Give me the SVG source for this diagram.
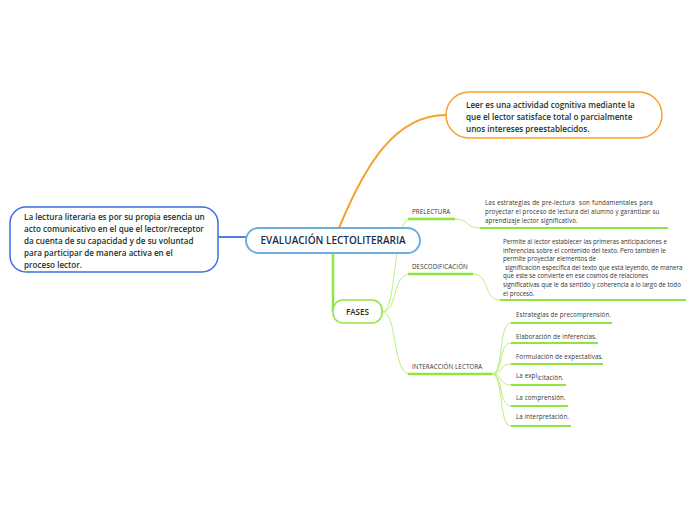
<svg xmlns="http://www.w3.org/2000/svg" width="696" height="520" viewBox="0 0 696 520">
<style>
.nt{font-family:"Open Sans","Liberation Sans",sans-serif;font-size:8.1px;font-weight:600;fill:#173626}
.ct{font-family:"Open Sans","Liberation Sans",sans-serif;font-size:10px;font-weight:600;fill:#1b2d48}
.st{font-family:"Open Sans","Liberation Sans",sans-serif;font-size:6.2px;letter-spacing:0.12px;fill:#333333}
.sd{letter-spacing:0px}
.thin{fill:none;stroke:#b9ef7f;stroke-width:1}
.ul{fill:none;stroke:#8ee440;stroke-width:2.5}
.uls{fill:none;stroke:#8ee440;stroke-width:2}
</style>
<rect width="696" height="520" fill="#ffffff"/>
<g id="connectors">
<path d="M339,228 C365,165 395,115 446,115" fill="none" stroke="#f7a12c" stroke-width="2"/>
<path d="M218,237 L246,237" fill="none" stroke="#4a7ee8" stroke-width="2"/>
<path d="M333,253 L333,312" fill="none" stroke="#8ee440" stroke-width="2.5"/>
<path class="thin" d="M382,312 C398,312 392,219 410,219"/>
<path class="thin" d="M382,312 C398,312 392,274 410,274"/>
<path class="thin" d="M382,312 C398,312 392,374 410,374"/>
<path class="thin" d="M455,219 C470,219 465,228 480,228"/>
<path class="thin" d="M473,274 C490,274 483,300 500,300"/>
<path class="thin" d="M492,374 C504,374 498,323 511,323"/>
<path class="thin" d="M492,374 C504,374 498,343 511,343"/>
<path class="thin" d="M492,374 C504,374 498,364 511,364"/>
<path class="thin" d="M492,374 C504,374 498,385 511,385"/>
<path class="thin" d="M492,374 C504,374 498,406 511,406"/>
<path class="thin" d="M492,374 C504,374 498,426 511,426"/>
</g>
<g id="central">
<rect x="246" y="228" width="174" height="25" rx="12.5" fill="#ffffff" stroke="#6aaee2" stroke-width="2"/>
<text class="ct" x="333" y="244" text-anchor="middle">EVALUACIÓN LECTOLITERARIA</text>
</g>
<g id="def">
<rect x="446" y="92" width="216" height="46" rx="23" fill="#ffffff" stroke="#f7a12c" stroke-width="1.5"/>
<text class="nt" x="466" y="108">Leer es una actividad cognitiva mediante la</text>
<text class="nt" x="466" y="120">que el lector satisface total o parcialmente</text>
<text class="nt" x="466" y="132">unos intereses preestablecidos.</text>
</g>
<g id="literaria">
<rect x="10" y="207" width="208" height="65" rx="16" fill="#ffffff" stroke="#3c6ee6" stroke-width="1.5"/>
<text class="nt" x="24" y="220">La lectura literaria es por su propia esencia un</text>
<text class="nt" x="24" y="232">acto comunicativo en el que el lector/receptor</text>
<text class="nt" x="24" y="244">da cuenta de su capacidad y de su voluntad</text>
<text class="nt" x="24" y="256">para participar de manera activa en el</text>
<text class="nt" x="24" y="268">proceso lector.</text>
</g>
<g id="fases">
<rect x="333" y="300" width="49" height="23" rx="10" fill="#ffffff" stroke="#8ee440" stroke-width="1.5"/>
<text class="nt" x="357.5" y="315" text-anchor="middle">FASES</text>
</g>
<g id="prelectura">
<text class="st" x="412" y="214">PRELECTURA</text>
<path class="ul" d="M408,219 L455,219"/>
</g>
<g id="prelectura-desc">
<text class="st" x="485" y="205" xml:space="preserve" style="word-spacing:0.4px">Las estrategias de pre-lectura  son fundamentales para</text>
<text class="st" x="485" y="214"> proyectar el proceso de lectura del alumno y garantizar su</text>
<text class="st" x="485" y="223">aprendizaje lector significativo.</text>
<path class="uls" d="M480,228 L668,228"/>
</g>
<g id="descodificacion">
<text class="st" x="412" y="269">DESCODIFICACIÓN</text>
<path class="ul" d="M408,274 L473,274"/>
</g>
<g id="descodificacion-desc">
<text class="st sd" x="503" y="244">Permite al lector establecer las primeras anticipaciones e</text>
<text class="st sd" x="503" y="252.6">inferencias sobre el contenido del texto. Pero también le</text>
<text class="st sd" x="503" y="261.2">permite proyectar elementos de</text>
<text class="st sd" x="505" y="269.8">significación específica del texto que está leyendo, de manera</text>
<text class="st sd" x="503" y="278.4">que este se convierte en ese cosmos de relaciones</text>
<text class="st sd" x="503" y="287">significativas que le da sentido y coherencia a lo largo de todo</text>
<text class="st sd" x="503" y="295.6">el proceso.</text>
<path class="uls" d="M500,300 L686,300"/>
</g>
<g id="interaccion">
<text class="st" x="412" y="369">INTERACCIÓN LECTORA</text>
<path class="ul" d="M408,374 L492,374"/>
</g>
<g id="estrategias">
<text class="st" x="516" y="317">Estrategias de precomprensión.</text>
<path class="uls" d="M511,323 L612,323"/>
</g>
<g id="elaboracion">
<text class="st" x="516" y="338.5">Elaboración de inferencias.</text>
<path class="uls" d="M511,343 L598,343"/>
</g>
<g id="formulacion">
<text class="st" x="516" y="358.5">Formulación de expectativas.</text>
<path class="uls" d="M511,364 L603,364"/>
</g>
<g id="explicitacion">
<text class="st" x="516" y="377.5">La expl<tspan dy="2">icitación.</tspan></text>
<path class="uls" d="M511,385 L566,385"/>
</g>
<g id="comprension">
<text class="st" x="516" y="400">La comprensión.</text>
<path class="uls" d="M511,406 L568,406"/>
</g>
<g id="interpretacion">
<text class="st" x="516" y="419">La interpretación.</text>
<path class="uls" d="M511,426 L571,426"/>
</g>
</svg>
